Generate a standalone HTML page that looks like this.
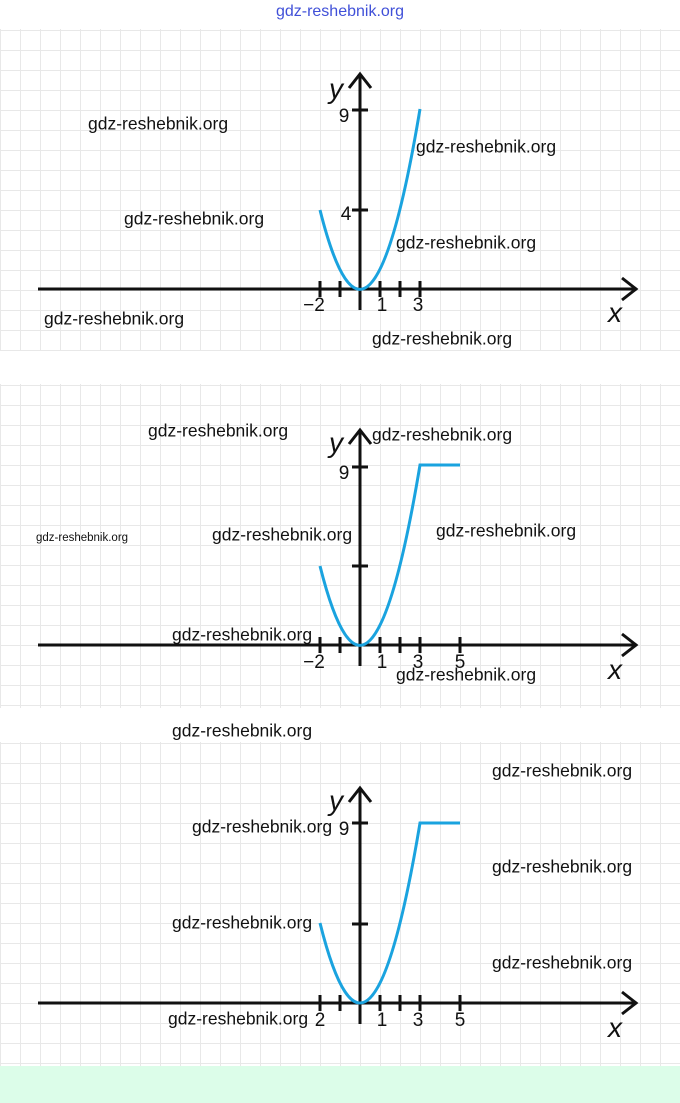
<!DOCTYPE html>
<html><head><meta charset="utf-8"><style>
html,body{margin:0;padding:0;background:#fff;}
svg{display:block;}
.w{font-family:"Liberation Sans",sans-serif;font-size:17.5px;fill:#111;dominant-baseline:middle;}
.n{font-family:"Liberation Sans",sans-serif;font-size:19px;fill:#111;text-anchor:middle;}
.v{font-family:"Liberation Sans",sans-serif;font-size:28px;fill:#111;font-style:italic;}
</style></head><body>
<svg width="680" height="1103" viewBox="0 0 680 1103" xmlns="http://www.w3.org/2000/svg">
<defs>
<pattern id="g1" width="20" height="20" patternUnits="userSpaceOnUse" x="0" y="30">
<path d="M0 0H20M0 0V20" stroke="#e8e8e8" stroke-width="2" fill="none"/>
</pattern>
<pattern id="g2" width="20" height="20" patternUnits="userSpaceOnUse" x="0" y="385">
<path d="M0 0H20M0 0V20" stroke="#e8e8e8" stroke-width="2" fill="none"/>
</pattern>
<pattern id="g3" width="20" height="20" patternUnits="userSpaceOnUse" x="0" y="743">
<path d="M0 0H20M0 0V20" stroke="#e8e8e8" stroke-width="2" fill="none"/>
</pattern>
</defs>
<rect x="0" y="29" width="680" height="322" fill="url(#g1)"/>
<rect x="0" y="384" width="680" height="324" fill="url(#g2)"/>
<rect x="0" y="742" width="680" height="324" fill="url(#g3)"/>
<rect x="0" y="1066" width="680" height="37" fill="#dcfde9"/>
<text x="340" y="12" text-anchor="middle" style="font-family:'Liberation Sans',sans-serif;font-size:16px;fill:#4050d8;dominant-baseline:middle">gdz-reshebnik.org</text>

<!-- Panel 1 -->
<g stroke="#111" stroke-width="3" fill="none">
<path d="M38 289H636M622 278L636 289L622 300"/>
<path d="M360 310V74M349 88L360 74L371 88"/>
<path d="M352 110H368M352 210H368"/>
<path d="M320 281V297M340 281V297M380 281V297M400 281V297M420 281V297"/>
</g>
<path d="M320 210Q370 409 420 109" stroke="#1aa3df" stroke-width="3" fill="none"/>
<text class="v" x="329" y="98">y</text>
<text class="v" x="608" y="322">x</text>
<text class="n" x="344" y="122">9</text>
<text class="n" x="346" y="220">4</text>
<text class="n" x="314" y="311">−2</text>
<text class="n" x="382" y="311">1</text>
<text class="n" x="418" y="311">3</text>

<!-- Panel 2 -->
<g stroke="#111" stroke-width="3" fill="none">
<path d="M38 645H636M622 634L636 645L622 656"/>
<path d="M360 666V430M349 444L360 430L371 444"/>
<path d="M352 467H368M352 566H368"/>
<path d="M320 637V653M340 637V653M380 637V653M400 637V653M420 637V653M460 637V653"/>
</g>
<path d="M320 566Q370 765 420 465H460" stroke="#1aa3df" stroke-width="3" fill="none"/>
<text class="v" x="329" y="452">y</text>
<text class="v" x="608" y="679">x</text>
<text class="n" x="344" y="479">9</text>
<text class="n" x="314" y="668">−2</text>
<text class="n" x="382" y="668">1</text>
<text class="n" x="418" y="668">3</text>
<text class="n" x="460" y="668">5</text>

<!-- Panel 3 -->
<g stroke="#111" stroke-width="3" fill="none">
<path d="M38 1003H636M622 992L636 1003L622 1014"/>
<path d="M360 1024V788M349 802L360 788L371 802"/>
<path d="M352 823H368M352 924H368"/>
<path d="M320 995V1011M340 995V1011M380 995V1011M400 995V1011M420 995V1011M460 995V1011"/>
</g>
<path d="M320 923Q370 1123 420 823H460" stroke="#1aa3df" stroke-width="3" fill="none"/>
<text class="v" x="329" y="810">y</text>
<text class="v" x="608" y="1037">x</text>
<text class="n" x="344" y="835">9</text>
<text class="n" x="320" y="1026">2</text>
<text class="n" x="382" y="1026">1</text>
<text class="n" x="418" y="1026">3</text>
<text class="n" x="460" y="1026">5</text>

<!-- watermarks -->
<g>
<text class="w" x="88" y="125">gdz-reshebnik.org</text>
<text class="w" x="416" y="148">gdz-reshebnik.org</text>
<text class="w" x="124" y="220">gdz-reshebnik.org</text>
<text class="w" x="396" y="244">gdz-reshebnik.org</text>
<text class="w" x="44" y="320">gdz-reshebnik.org</text>
<text class="w" x="372" y="340">gdz-reshebnik.org</text>
<text class="w" x="148" y="432">gdz-reshebnik.org</text>
<text class="w" x="372" y="436">gdz-reshebnik.org</text>
<text class="w" x="36" y="538" style="font-size:11.5px">gdz-reshebnik.org</text>
<text class="w" x="212" y="536">gdz-reshebnik.org</text>
<text class="w" x="436" y="532">gdz-reshebnik.org</text>
<text class="w" x="172" y="636">gdz-reshebnik.org</text>
<text class="w" x="396" y="676">gdz-reshebnik.org</text>
<text class="w" x="172" y="732">gdz-reshebnik.org</text>
<text class="w" x="492" y="772">gdz-reshebnik.org</text>
<text class="w" x="192" y="828">gdz-reshebnik.org</text>
<text class="w" x="492" y="868">gdz-reshebnik.org</text>
<text class="w" x="172" y="924">gdz-reshebnik.org</text>
<text class="w" x="492" y="964">gdz-reshebnik.org</text>
<text class="w" x="168" y="1020">gdz-reshebnik.org</text>
</g>
</svg>
</body></html>
